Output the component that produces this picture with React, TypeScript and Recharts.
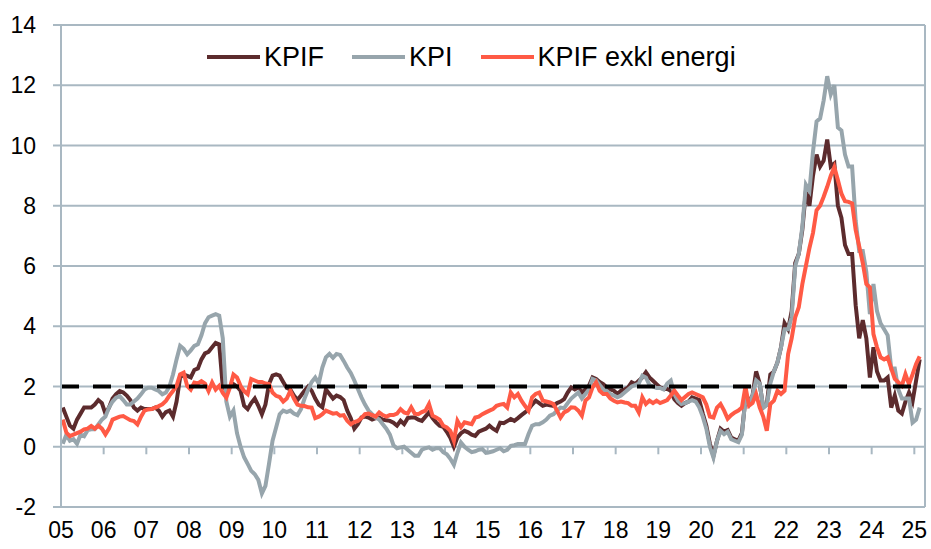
import React from 'react';
import { LineChart, Line, XAxis, YAxis, CartesianGrid, ReferenceLine, Legend } from 'recharts';

// Monthly data Jan 2005 – Feb 2025 (annual % change)
const kpif = [
  1.3, 1.0, 0.7, 0.6, 0.9, 1.1, 1.3, 1.3, 1.3, 1.4, 1.55, 1.45,
  1.1, 1.3, 1.6, 1.75, 1.85, 1.8, 1.7, 1.55, 1.3, 1.2, 1.3, 1.25,
  1.25, 1.25, 1.3, 1.2, 1.0, 1.15, 1.2, 1.0, 1.5, 2.3, 2.4, 2.35,
  2.3, 2.55, 2.6, 2.9, 3.1, 3.15, 3.3, 3.45, 3.4, 2.0, 1.9, 2.0,
  2.08, 2.0, 1.86, 1.36, 1.25, 1.45, 1.6, 1.36, 1.08, 1.4, 2.08, 2.36,
  2.4, 2.36, 2.15, 1.95, 1.9, 1.7, 1.55, 1.7, 1.86, 2.0, 1.86, 1.6,
  1.4, 1.31, 1.9, 1.75, 1.6, 1.7, 1.65, 1.55, 1.2, 0.95, 0.6, 0.75,
  0.97, 1.0, 0.97, 0.9, 0.95, 0.97, 0.9, 0.88, 0.86, 0.8, 0.7, 0.86,
  0.75, 0.95, 0.97, 0.97, 0.9, 0.86, 1.0, 1.14, 0.95, 0.81, 0.7, 0.66,
  0.5, 0.3, 0.0, 0.31, 0.45, 0.53, 0.48, 0.4, 0.36, 0.5, 0.55, 0.6,
  0.7, 0.6, 0.53, 0.8, 0.78, 0.85, 0.92, 0.86, 0.95, 1.05, 1.14, 1.25,
  1.4, 1.53, 1.45, 1.36, 1.4, 1.38, 1.36, 1.45, 1.5, 1.58, 1.8, 1.97,
  1.9, 1.97, 1.8, 1.9, 2.02, 2.3, 2.25, 2.15, 2.08, 1.97, 1.9, 1.86,
  1.75, 1.86, 1.9, 1.97, 2.14, 2.08, 2.19, 2.3, 2.47, 2.3, 2.19, 2.08,
  1.97, 1.92, 1.92, 1.86, 1.58, 1.45, 1.36, 1.45, 1.5, 1.64, 1.6, 1.55,
  1.1, 0.7, 0.1, -0.3, 0.2, 0.6, 0.5, 0.55, 0.3, 0.25, 0.2, 0.45,
  1.6, 1.5, 1.7, 2.5, 2.1, 1.3, 1.4, 2.4, 2.5, 2.8, 3.3, 4.1,
  3.9, 4.5, 6.1, 6.4, 7.2, 8.5, 8.0, 9.0, 9.7, 9.3, 9.5, 10.2,
  9.3, 9.4, 8.0, 7.6, 6.7, 6.4, 6.4, 4.7, 3.6, 4.2, 3.6, 2.3,
  3.3, 2.5, 2.2, 2.2, 2.3, 1.3, 1.7, 1.2, 1.1, 1.5, 1.8, 1.5,
  2.2, 2.9,
];

const kpi = [
  0.1, 0.4, 0.2, 0.25, 0.1, 0.4, 0.35, 0.55, 0.58, 0.58, 0.74, 0.9,
  1.0, 1.3, 1.5, 1.63, 1.68, 1.55, 1.4, 1.4, 1.5, 1.6, 1.74, 1.9,
  1.96, 1.96, 1.9, 1.85, 1.74, 1.8, 2.0, 2.4, 2.9, 3.35, 3.25, 3.07,
  3.2, 3.35, 3.4, 3.7, 4.1, 4.3, 4.35, 4.4, 4.35, 3.6, 1.5, 1.0,
  1.2, 0.45, 0.0, -0.35, -0.57, -0.8, -0.91, -1.1, -1.55, -1.3, -0.57, 0.2,
  0.64, 1.08, 1.2, 1.15, 1.2, 1.1, 1.05, 1.25, 1.6, 1.9, 2.15, 2.3,
  2.1, 2.63, 2.97, 3.08, 2.95, 3.08, 3.05, 2.85, 2.63, 2.45, 2.2, 1.92,
  1.64, 1.4, 1.2, 1.08, 0.97, 0.9, 0.75, 0.6, 0.4, 0.05, -0.05, -0.02,
  0.0, -0.1, -0.2, -0.3, -0.3, -0.1, -0.05, -0.02, -0.1, -0.05, -0.05, -0.18,
  -0.25, -0.4, -0.6, -0.2, 0.14, 0.0, -0.1, -0.18, -0.15, -0.1, -0.08, -0.2,
  -0.18, -0.15, -0.1, -0.05, -0.15, -0.1, 0.03, 0.05, 0.09, 0.09, 0.09, 0.42,
  0.7, 0.75, 0.75, 0.81, 0.9, 1.03, 1.08, 1.2, 1.3, 1.28, 1.45, 1.6,
  1.7, 1.8, 1.6, 1.75, 1.9, 2.25, 2.2, 2.05, 1.9, 1.85, 1.75, 1.7,
  1.64, 1.7, 1.8, 1.9, 2.0, 2.05, 2.1, 2.36, 2.3, 2.05, 2.0, 1.95,
  1.95, 1.9, 2.1, 2.2, 1.75, 1.53, 1.42, 1.45, 1.5, 1.55, 1.5, 1.31,
  1.0, 0.6, 0.0, -0.36, 0.2, 0.53, 0.42, 0.5, 0.25, 0.2, 0.15, 0.4,
  1.6, 1.4, 1.7, 2.2, 2.1, 1.3, 1.4, 2.1, 2.5, 2.8, 3.3, 3.9,
  3.9, 4.3, 6.0, 6.4, 7.3, 8.7, 8.5, 9.8, 10.8, 10.9, 11.5, 12.3,
  11.7, 12.0, 10.6, 10.5, 9.7, 9.3, 9.3, 7.5, 6.5, 6.5, 5.8, 4.4,
  5.4, 4.5, 4.1, 3.9, 3.7, 2.6, 2.6, 1.9, 1.6, 1.6, 1.6, 0.8,
  0.9, 1.3,
];

const kpifExEnergy = [
  0.9, 0.47, 0.35, 0.4, 0.45, 0.5, 0.58, 0.6, 0.69, 0.6, 0.7, 0.6,
  0.41, 0.6, 0.9, 0.95, 1.0, 1.02, 0.95, 0.88, 0.85, 0.74, 1.0, 1.2,
  1.24, 1.25, 1.3, 1.35, 1.41, 1.52, 1.7, 1.85, 2.02, 2.4, 2.46, 2.02,
  1.9, 2.13, 2.1, 2.18, 2.1, 1.85, 2.13, 1.9, 2.02, 1.79, 1.63, 1.96,
  2.4, 2.3, 2.02, 1.85, 1.75, 2.25, 2.2, 2.15, 2.15, 2.1, 2.08, 1.8,
  1.69, 1.65, 1.5, 1.6, 1.86, 1.6, 1.4, 1.36, 1.35, 1.31, 1.3, 0.95,
  1.0, 1.08, 1.2, 1.15, 1.1, 1.12, 1.03, 1.05, 0.86, 0.75, 0.82, 0.86,
  0.95, 1.08, 1.1, 1.05, 1.0, 1.14, 1.05, 1.0, 1.05, 1.05, 1.1, 1.25,
  1.14, 1.1, 1.31, 1.1, 1.08, 1.15, 1.2, 1.42, 1.03, 0.97, 0.9, 0.7,
  0.64, 0.53, 0.2, 0.86, 0.65, 0.81, 0.78, 0.75, 0.97, 1.0, 1.08, 1.14,
  1.2, 1.25, 1.36, 1.4, 1.42, 1.3, 1.8, 1.64, 1.75, 1.53, 1.36, 1.2,
  1.64, 1.75, 1.8, 1.53, 1.5, 1.47, 1.42, 1.2, 0.97, 1.14, 1.2, 1.31,
  1.3, 1.2, 1.03, 1.53, 1.64, 1.97, 2.14, 1.86, 1.75, 1.75, 1.6, 1.53,
  1.47, 1.5, 1.47, 1.45, 1.36, 1.36, 1.14, 1.64, 1.42, 1.53, 1.45, 1.53,
  1.45, 1.5, 1.55, 1.7, 1.86, 1.7, 1.55, 1.65, 1.75, 1.8, 1.75, 1.7,
  1.64, 1.4, 1.0, 0.97, 1.3, 1.42, 1.2, 0.93, 1.05, 1.14, 1.2, 1.3,
  2.0, 1.36, 1.45, 1.75, 1.31, 1.0, 0.53, 1.42, 1.53, 1.86, 1.75, 1.86,
  3.08, 3.6, 4.3, 4.63, 5.4, 6.0, 6.6, 7.1, 7.85, 8.0, 8.3, 8.63,
  9.0, 9.28, 8.85, 8.4, 8.15, 8.13, 8.08, 7.2, 6.65, 6.1, 5.4, 5.29,
  3.74, 3.3, 2.97, 2.9, 2.97, 2.6, 2.25, 2.14, 2.03, 2.41, 2.08, 2.4,
  2.75, 3.0,
];

const yearLabels = ['05', '06', '07', '08', '09', '10', '11', '12', '13', '14', '15',
  '16', '17', '18', '19', '20', '21', '22', '23', '24', '25'];
const yTicks = [-2, 0, 2, 4, 6, 8, 10, 12, 14];
const targetLevel = 2;
const monthsPerYear = 12;
const axisMonths = 243; // Jan 2005 .. Mar 2025 category slots

const seriesKeys = ['kpif', 'kpi', 'ex'];
const seriesNames = ['KPIF', 'KPI', 'KPIF exkl energi'];
const seriesColors = ['#5C2B2D', '#97A5AC', '#FF5A45'];

const GRID = '#A9B8C2';

const yearTicks = yearLabels.map((_, i) => i * monthsPerYear);

const data = kpif.map((v, i) => ({
  m: i + 0.5,
  kpif: v,
  kpi: kpi[i],
  ex: kpifExEnergy[i],
}));

const XTick = (props: any) => {
  const { x, y, payload } = props;
  const idx = Math.round(payload.value / monthsPerYear);
  return (
    <text
      x={x}
      y={y}
      dy={23}
      textAnchor="middle"
      fontFamily="'Liberation Sans Narrow', 'Arial Narrow', 'Liberation Sans', Arial, sans-serif"
      fontSize={23}
      fill="#000"
    >
      {yearLabels[idx]}
    </text>
  );
};

const LegendContent = () => (
  <div style={{ position: 'relative', height: 0 }}>
    <div
      style={{
        position: 'absolute',
        top: 41,
        left: 207,
        display: 'flex',
        alignItems: 'center',
        whiteSpace: 'nowrap',
        fontFamily: "'Liberation Sans', Arial, sans-serif",
        fontSize: 27,
        lineHeight: '32px',
        color: '#000',
      }}
    >
      {seriesNames.map((n, i) => (
        <div key={n} style={{ display: 'flex', alignItems: 'center', marginRight: 28 }}>
          <div style={{ width: 53, height: 4, background: seriesColors[i], marginRight: 4 }} />
          <span>{n}</span>
        </div>
      ))}
    </div>
  </div>
);

export default function App() {
  return (
    <div style={{ position: 'absolute', left: 0, top: 0, background: '#fff' }}>
      <LineChart
        width={931}
        height={549}
        data={data}
        margin={{ top: 25, right: 6, left: 0, bottom: 2 }}
      >
        <CartesianGrid horizontal vertical={false} stroke={GRID} strokeWidth={2} />
        <XAxis
          dataKey="m"
          type="number"
          domain={[0, axisMonths]}
          ticks={yearTicks}
          interval={0}
          height={40}
          axisLine={{ stroke: GRID, strokeWidth: 2 }}
          tickLine={false}
          tick={<XTick />}
          allowDecimals
        />
        <YAxis
          type="number"
          domain={[-2, 14]}
          ticks={yTicks}
          interval={0}
          width={61}
          axisLine={{ stroke: GRID, strokeWidth: 2 }}
          tickLine={{ stroke: GRID, strokeWidth: 2 }}
          tickSize={8}
          tickMargin={17}
          tick={{ fill: '#000', fontSize: 23, fontFamily: "'Liberation Sans', Arial, sans-serif" }}
        />
        <ReferenceLine x={axisMonths} stroke={GRID} strokeWidth={2} />
        {yearTicks.slice(1).map((t) => (
          <ReferenceLine
            key={t}
            segment={[{ x: t, y: 0 }, { x: t, y: -0.25 }]}
            stroke={GRID}
            strokeWidth={2}
            ifOverflow="visible"
          />
        ))}
        {seriesKeys.map((k, i) => (
          <Line
            key={k}
            dataKey={k}
            name={seriesNames[i]}
            type="linear"
            stroke={seriesColors[i]}
            strokeWidth={4}
            dot={false}
            isAnimationActive={false}
          />
        ))}
        <ReferenceLine
          y={targetLevel}
          stroke="#000"
          strokeWidth={4}
          strokeDasharray="18 14"
        />
        <Legend
          verticalAlign="top"
          content={<LegendContent />}
          wrapperStyle={{ top: 0, left: 0, width: 931, height: 0 }}
        />
      </LineChart>
    </div>
  );
}
